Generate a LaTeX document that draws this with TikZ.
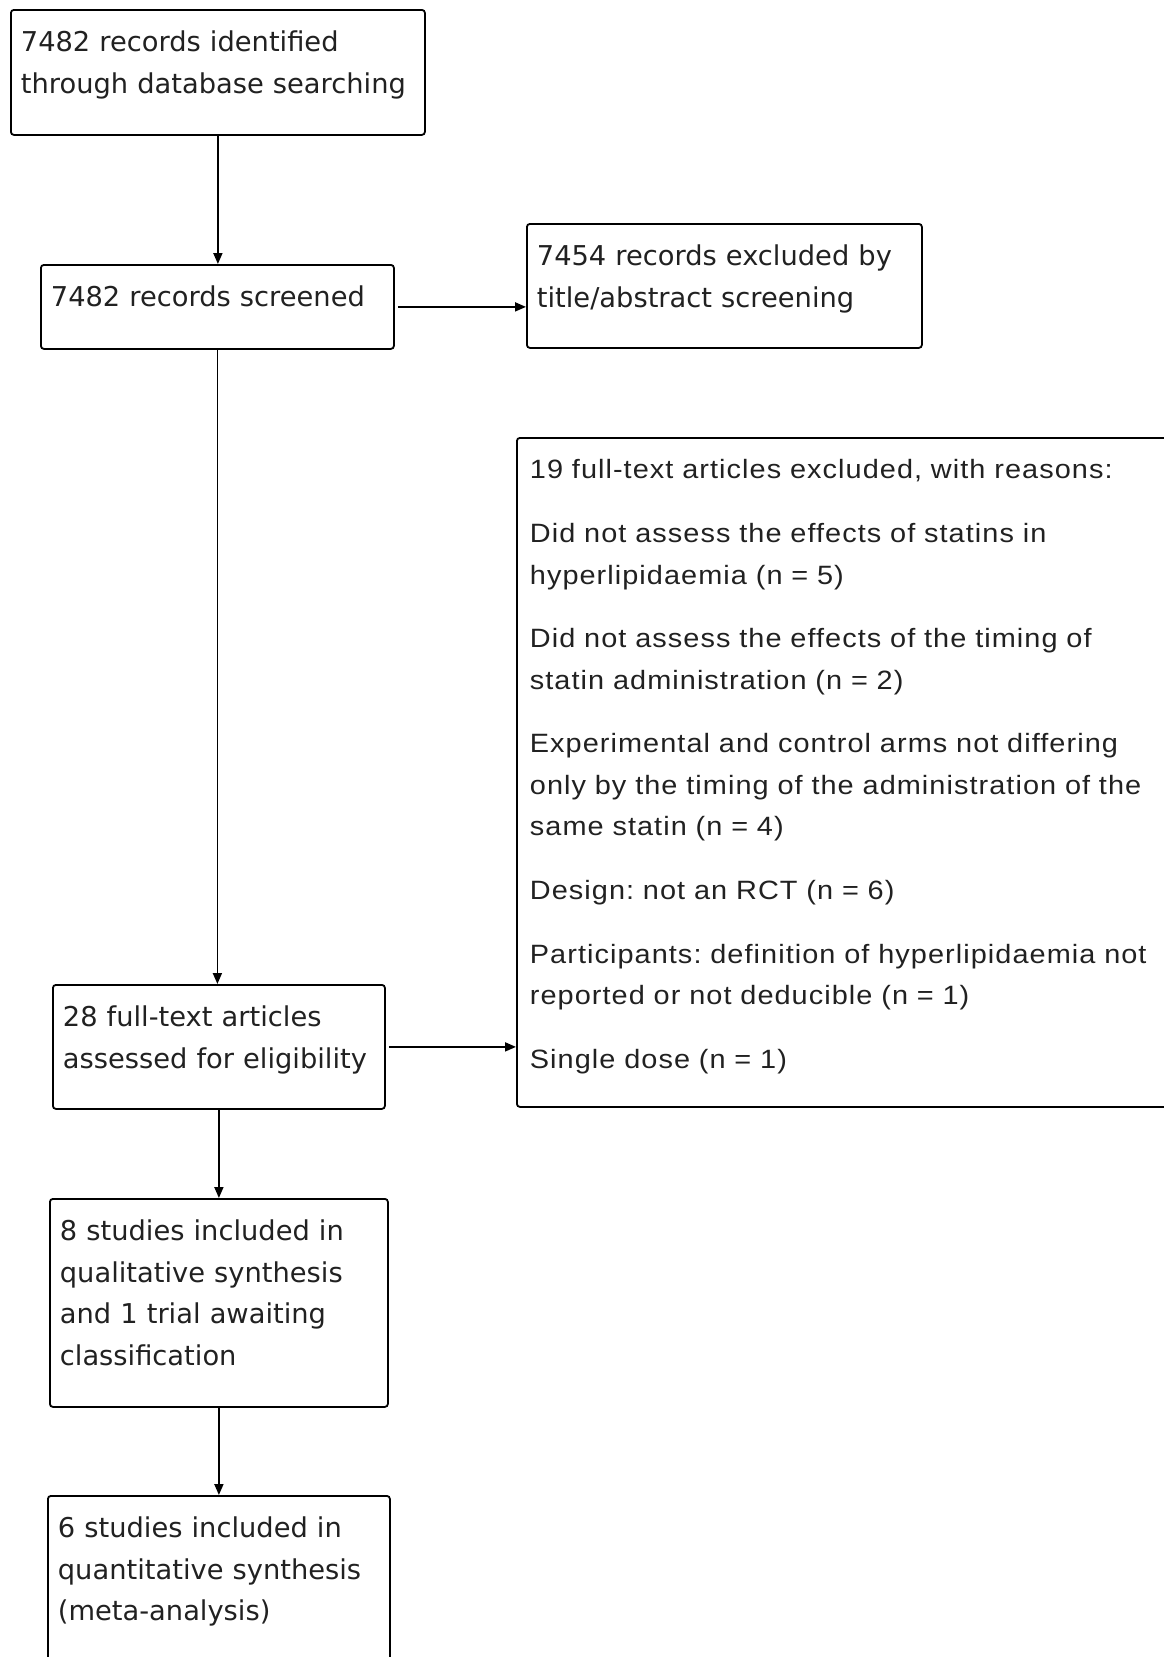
\documentclass[tikz,border=0pt]{standalone}
\usepackage{fontspec}
\usetikzlibrary{arrows.meta}
\newfontfamily\boxfont{DejaVu Sans}
\newfontfamily\notefont[FakeStretch=1.09,LetterSpace=4]{Liberation Sans}
\frenchspacing
\tikzstyle{flowbox}=[draw, line width=1.8pt, rounded corners=3pt, anchor=north west, align=left, inner xsep=10pt, inner ysep=0pt, text height=42pt, text=black!87, font=\boxfont\fontsize{27.3}{41.5}\selectfont]
\tikzstyle{flowarrow}=[line width=1.8pt, -{Triangle[length=11pt,width=9pt]}]
\newcommand{\drawbox}[7][]{
\pgfmathsetmacro{\boxwd}{#5-20}
\pgfmathsetmacro{\boxdp}{#6-42}
\node[flowbox, text width=\boxwd pt, text depth=\boxdp pt, #1] (#2) at (#3,#4) {#7};
}

\begin{document}
\begin{tikzpicture}[x=1pt,y=-1pt]
	\useasboundingbox (0,0) rectangle (1163,1657);
	\drawbox{ident}{10}{9}{414}{125}{7482 records identified\\through database searching}
	\drawbox{screen}{40}{264}{353}{84}{7482 records screened}
	\drawbox{excl}{526}{223}{395}{124}{7454 records excluded by\\title/abstract screening}
	\drawbox[inner xsep=13pt, text height=41pt, font=\notefont\fontsize{26.5}{41.3}\selectfont]{reasons}{516}{437}{680}{670}{19 full-text articles excluded, with reasons:\\[22.5pt]
	Did not assess the effects of statins in\\hyperlipidaemia (n = 5)\\[22.5pt]
	Did not assess the effects of the timing of\\statin administration (n = 2)\\[22.5pt]
	Experimental and control arms not differing\\only by the timing of the administration of the\\same statin (n = 4)\\[22.5pt]
	Design: not an RCT (n = 6)\\[22.5pt]
	Participants: definition of hyperlipidaemia not\\reported or not deducible (n = 1)\\[22.5pt]
	Single dose (n = 1)}
	\drawbox{fulltext}{52}{984}{332}{124}{28 full-text articles\\assessed for eligibility}
	\drawbox{qual}{49}{1198}{338}{208}{8 studies included in\\qualitative synthesis\\and 1 trial awaiting\\classification}
	\drawbox{quant}{47}{1495}{342}{200}{6 studies included in\\quantitative synthesis\\(meta-analysis)}
	% main flow
	\draw[flowarrow] (ident.south) -- (ident.south |- screen.north);
	\draw[flowarrow] (screen.south) -- (screen.south |- fulltext.north);
	\draw[flowarrow] (fulltext.south) -- (fulltext.south |- qual.north);
	\draw[flowarrow] (qual.south) -- (qual.south |- quant.north);
	% exclusions
	\draw[flowarrow, shorten <=3pt] (screen.east) -- (screen.east -| excl.west);
	\draw[flowarrow, shorten <=3pt] (fulltext.east) -- (fulltext.east -| reasons.west);
\end{tikzpicture}
\end{document}
